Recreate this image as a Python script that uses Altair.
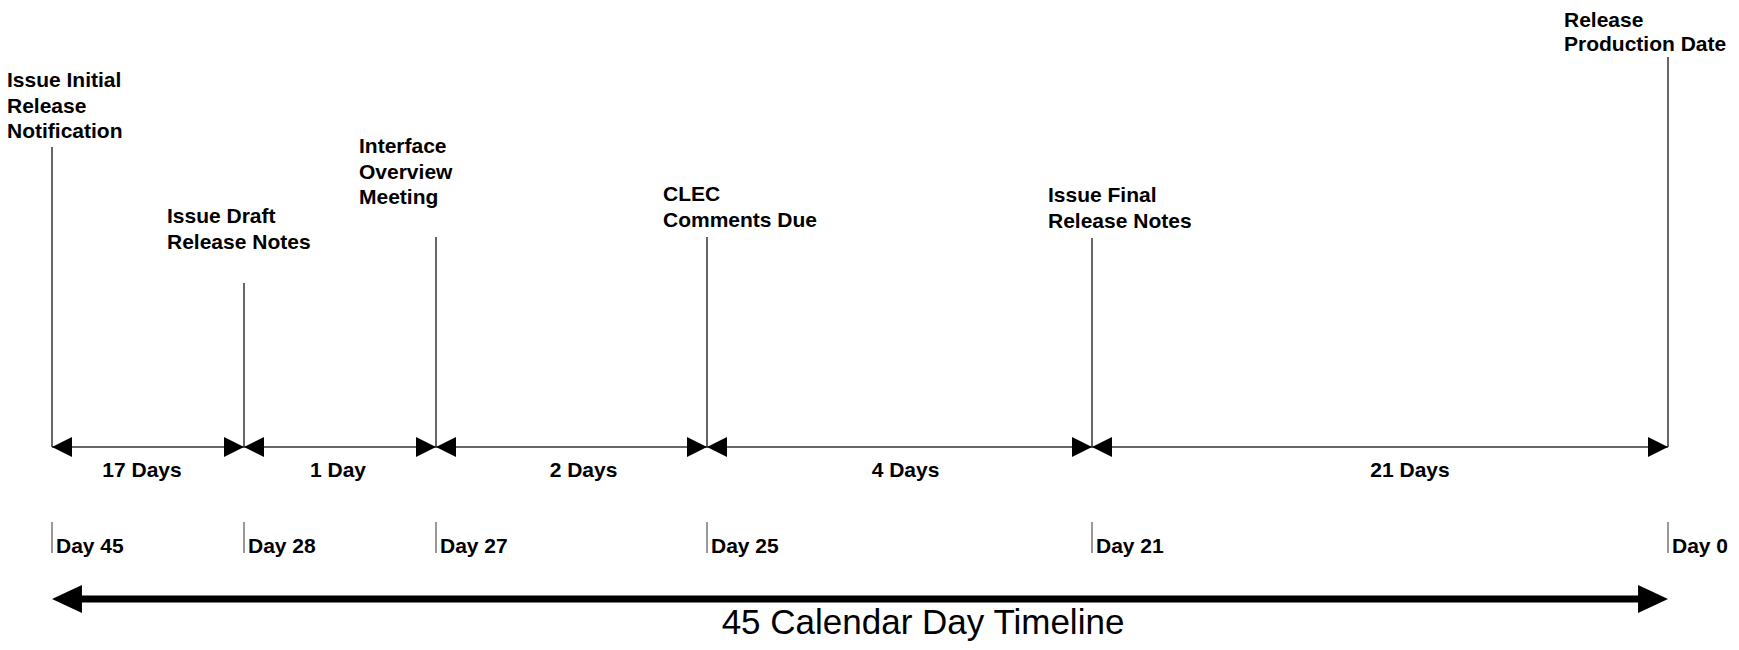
import altair as alt
import pandas as pd

# ---------------- data ----------------
MILESTONES = [
    "Issue Initial\nRelease\nNotification",
    "Issue Draft\nRelease Notes",
    "Interface\nOverview\nMeeting",
    "CLEC\nComments Due",
    "Issue Final\nRelease Notes",
    "Release\nProduction Date",
]
DAYS = [45, 28, 27, 25, 21, 0]
DAY_LABELS = ["Day 45", "Day 28", "Day 27", "Day 25", "Day 21", "Day 0"]
SPAN_LABELS = ["17 Days", "1 Day", "2 Days", "4 Days", "21 Days"]
TITLE = "45 Calendar Day Timeline"

# ---------------- layout (pixels, chart coordinates) ----------------
W, H = 1723, 634
X_RANGE = [44, 236, 428, 699, 1084, 1660]      # schematic (non-proportional) placement
LABEL_DX = [-45, -77, -77, -44, -44, -104]
LABEL_BASE = [79, 215, 145, 193, 194, 19]
LABEL_LH = [25.5, 25.5, 25.5, 25.5, 25.5, 24]
LINE_TOP = [139, 275, 229, 229, 230, 49]
SPAN_DX = [-6, -2, 12, 6, 30]
SPAN_Y = 439
SPAN_LABEL_Y = 469
TICK_TOP, TICK_BOTTOM = 514, 545
BIG_Y = 591
TITLE_X, TITLE_Y = 915, 626

FONT = "Liberation Sans"
LINE_COLOR = "#333333"

LEFT_HEAD = "M0,0L2,-1L2,1Z"
RIGHT_HEAD = "M0,0L-2,-1L-2,1Z"
BIG_LEFT = "M0,0L2.14,-1L2.14,1Z"
BIG_RIGHT = "M0,0L-2.14,-1L-2.14,1Z"

xscale = alt.Scale(domain=DAYS, range=X_RANGE, zero=False, nice=False)

ms = pd.DataFrame({"label": MILESTONES, "day": DAYS, "daylabel": DAY_LABELS})
spans = pd.DataFrame({
    "start": DAYS[:-1],
    "end": DAYS[1:],
    "label": SPAN_LABELS,
})
ends = pd.DataFrame({"start": [DAYS[0]], "end": [DAYS[-1]], "title": [TITLE]})

layers = []

# milestone vertical lines and labels
for i in range(len(MILESTONES)):
    sub = ms.iloc[[i]]
    layers.append(
        alt.Chart(sub).mark_rule(color=LINE_COLOR, strokeWidth=1.5).encode(
            x=alt.X("day:Q", scale=xscale, axis=None),
            y=alt.value(LINE_TOP[i]),
            y2=alt.value(SPAN_Y),
        )
    )
    layers.append(
        alt.Chart(sub).mark_text(
            align="left", baseline="alphabetic", dx=LABEL_DX[i],
            font=FONT, fontSize=21, fontWeight="bold", color="black",
            lineBreak="\n", lineHeight=LABEL_LH[i],
        ).encode(
            x=alt.X("day:Q", scale=xscale, axis=None),
            y=alt.value(LABEL_BASE[i]),
            text="label:N",
        )
    )

# span arrows
layers.append(
    alt.Chart(spans).mark_rule(color=LINE_COLOR, strokeWidth=1.5).encode(
        x=alt.X("start:Q", scale=xscale, axis=None),
        x2="end:Q",
        y=alt.value(SPAN_Y),
    )
)
layers.append(
    alt.Chart(spans).mark_point(shape=LEFT_HEAD, size=400, filled=True,
                                color="black", opacity=1, strokeWidth=0).encode(
        x=alt.X("start:Q", scale=xscale, axis=None),
        y=alt.value(SPAN_Y),
    )
)
layers.append(
    alt.Chart(spans).mark_point(shape=RIGHT_HEAD, size=400, filled=True,
                                color="black", opacity=1, strokeWidth=0).encode(
        x=alt.X("end:Q", scale=xscale, axis=None),
        y=alt.value(SPAN_Y),
    )
)
for i in range(len(SPAN_LABELS)):
    layers.append(
        alt.Chart(spans.iloc[[i]]).transform_calculate(
            mid="(datum.start + datum.end) / 2"
        ).mark_text(
            align="center", baseline="alphabetic", dx=SPAN_DX[i],
            font=FONT, fontSize=21, fontWeight="bold", color="black",
        ).encode(
            x=alt.X("mid:Q", scale=xscale, axis=None),
            y=alt.value(SPAN_LABEL_Y),
            text="label:N",
        )
    )

# day ticks and labels
layers.append(
    alt.Chart(ms).mark_rule(color=LINE_COLOR, strokeWidth=1).encode(
        x=alt.X("day:Q", scale=xscale, axis=None),
        y=alt.value(TICK_TOP),
        y2=alt.value(TICK_BOTTOM),
    )
)
layers.append(
    alt.Chart(ms).mark_text(
        align="left", baseline="alphabetic", dx=4,
        font=FONT, fontSize=21, fontWeight="bold", color="black",
    ).encode(
        x=alt.X("day:Q", scale=xscale, axis=None),
        y=alt.value(TICK_BOTTOM),
        text="daylabel:N",
    )
)

# big 45-day arrow
layers.append(
    alt.Chart(ends).mark_rule(color="black", strokeWidth=7, strokeCap="butt",
                              xOffset=28, x2Offset=-28).encode(
        x=alt.X("start:Q", scale=xscale, axis=None),
        x2="end:Q",
        y=alt.value(BIG_Y),
    )
)
layers.append(
    alt.Chart(ends).mark_point(shape=BIG_LEFT, size=784, filled=True,
                               color="black", opacity=1, strokeWidth=0).encode(
        x=alt.X("start:Q", scale=xscale, axis=None),
        y=alt.value(BIG_Y),
    )
)
layers.append(
    alt.Chart(ends).mark_point(shape=BIG_RIGHT, size=784, filled=True,
                               color="black", opacity=1, strokeWidth=0).encode(
        x=alt.X("end:Q", scale=xscale, axis=None),
        y=alt.value(BIG_Y),
    )
)
layers.append(
    alt.Chart(ends).mark_text(
        align="center", baseline="alphabetic",
        font=FONT, fontSize=35, fontWeight="normal", color="black",
    ).encode(
        x=alt.value(TITLE_X),
        y=alt.value(TITLE_Y),
        text="title:N",
    )
)

chart = alt.layer(*layers).properties(
    width=W, height=H, padding=0, autosize="none", background="white"
).configure_view(stroke=None)

chart.save("out.html", embed_options={"renderer": "svg", "actions": False})
